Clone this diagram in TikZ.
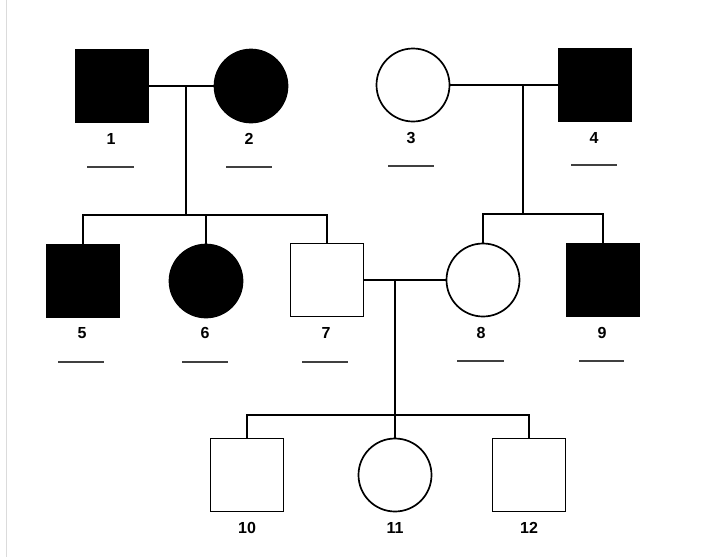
\documentclass[tikz,border=0pt]{standalone}
\usepackage{fontspec}
\setmainfont{Liberation Sans}
\begin{document}
\begin{tikzpicture}[x=1pt,y=-1pt,
  person/.style={draw=black,line width=1.7pt,minimum size=73pt,inner sep=0pt,outer sep=0pt},
  male/.style={person,rectangle},
  female/.style={person,circle},
  affected/.style={fill=black},
  link/.style={draw=black,line width=1.5pt},
  num/.style={font=\fontsize{16}{18}\selectfont\bfseries,inner sep=0pt},
  blank/.style={draw=black!75,line width=1.3pt}]
\useasboundingbox (0,0) rectangle (720,558);
\fill[white] (0,0) rectangle (720,558);
\draw[black!14,line width=1.2pt] (6.5,0) -- (6.5,557);
% generation I
\node[male,affected] (p1) at (112,86) {};
\node[female,affected] (p2) at (251,86) {};
\node[female] (p3) at (413,85) {};
\node[male,affected] (p4) at (595,85) {};
% generation II
\node[male,affected] (p5) at (83,281) {};
\node[female,affected] (p6) at (206,281) {};
\node[male] (p7) at (327,280) {};
\node[female] (p8) at (483,280) {};
\node[male,affected] (p9) at (603,280) {};
% generation III
\node[male] (p10) at (247,475) {};
\node[female] (p11) at (395,475) {};
\node[male] (p12) at (529,475) {};
% labels
\node[num] (l1) at (111,139) {1};
\node[num] (l2) at (249,139) {2};
\node[num] (l3) at (411,138) {3};
\node[num] (l4) at (594,138) {4};
\node[num] (l5) at (82,333) {5};
\node[num] (l6) at (205,333) {6};
\node[num] (l7) at (326,333) {7};
\node[num] (l8) at (481,333) {8};
\node[num] (l9) at (602,333) {9};
\node[num] (l10) at (247,528) {10};
\node[num] (l11) at (395,528) {11};
\node[num] (l12) at (529,528) {12};
% underlines
\foreach \n/\a/\b/\y in {1/87/134/167, 2/226/272/167, 3/388/434/166, 4/571/617/165,
  5/58/104/362, 6/182/228/362, 7/302/348/362, 8/457/504/361, 9/579/624/361}{
  \draw[blank] (\a,\y) -- (\b,\y);
}
% marriage lines and descent points
\coordinate (m12) at (186,86);
\coordinate (m34) at (523,85);
\coordinate (m78) at (395,280);
\coordinate (s1) at (186,215);
\coordinate (s2) at (523,214);
\draw[link] (p1.east) -- (p2.west);
\draw[link] (p3.east) -- (p4.west);
\draw[link] (p7.east) -- (p8.west);
% sibships
\draw[link] (m12) -- (s1);
\draw[link] (p5.north) -- (83,215) -- (327,215) -- (p7.north);
\draw[link] (p6.north) -- (206,215);
\draw[link] (m34) -- (s2);
\draw[link] (p8.north) -- (483,214) -- (603,214) -- (p9.north);
\draw[link] (m78) -- (p11.north);
\draw[link] (p10.north) -- (247,415) -- (529,415) -- (p12.north);
\end{tikzpicture}
\end{document}
